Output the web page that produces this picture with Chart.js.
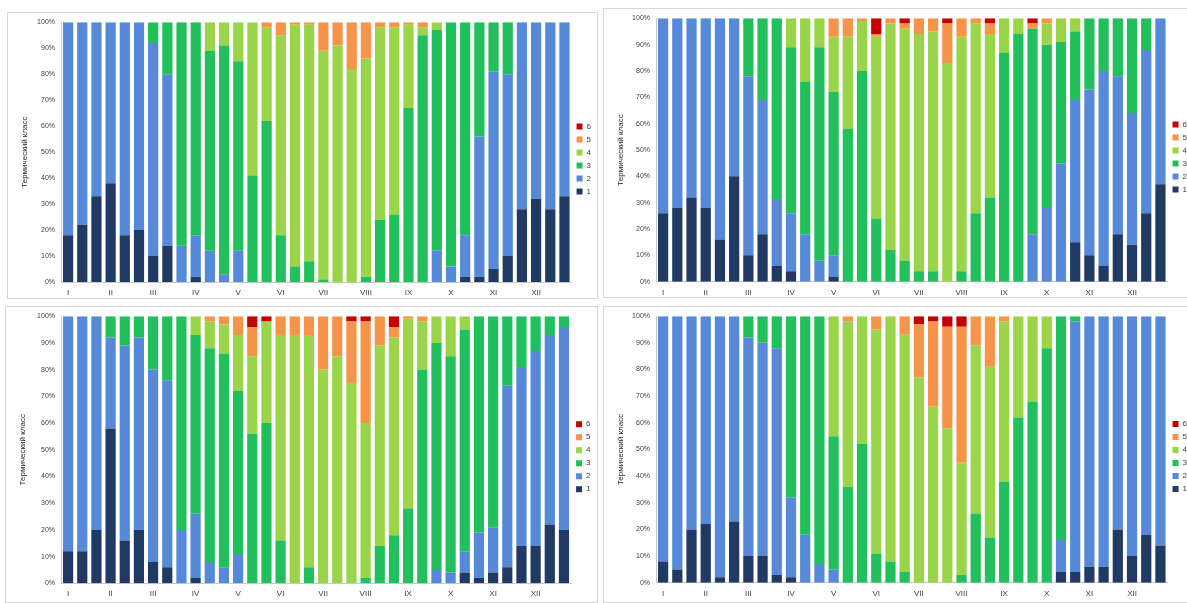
<!DOCTYPE html>
<html>
<head>
<meta charset="utf-8">
<script src="https://cdn.jsdelivr.net/npm/chart.js@4.4.1/dist/chart.umd.min.js"></script>
<style>
  body { margin: 0; width: 1187px; height: 603px; overflow: hidden; background: #fff; position: relative; }
  .panel { position: absolute; border: 1px solid #d6d6d6; box-sizing: border-box; overflow: hidden; background: #fff; }
  .panel canvas { position: absolute; left: -1px; top: -1px; }
</style>
</head>
<body>
<div class="panel" style="left:7px;top:12px;width:591px;height:287px"><canvas id="tl" width="591" height="287"></canvas></div>
<div class="panel" style="left:603px;top:8px;width:600px;height:290px"><canvas id="tr" width="600" height="290"></canvas></div>
<div class="panel" style="left:5px;top:306px;width:593px;height:297px"><canvas id="bl" width="593" height="297"></canvas></div>
<div class="panel" style="left:603px;top:306px;width:600px;height:297px"><canvas id="br" width="600" height="297"></canvas></div>
<script>
// months and decades -> 36 categories
const months = ["I", "II", "III", "IV", "V", "VI", "VII", "VIII", "IX", "X", "XI", "XII"];
const decades = ["1", "2", "3"];
const classes = ["1", "2", "3", "4", "5", "6"];
const colors = ["#213a63", "#5689d8", "#22c05d", "#9ad449", "#f6944a", "#c40000"];
const yTitle = "Термический класс";

// top left
const tl1 = [18,22,33, 38,18,20, 10,14,0, 2,0,0, 0,0,0, 0,0,0, 0,0,0, 0,0,0, 0,0,0, 0,2,2, 5,10,28, 32,28,33];
const tl2 = [82,78,67, 62,82,80, 82,66,14, 16,12,3, 12,0,0, 0,0,0, 0,0,0, 0,0,0, 0,0,12, 6,16,54, 76,70,72, 68,72,67];
const tl3 = [0,0,0, 0,0,0, 8,20,86, 82,77,88, 73,41,62, 18,6,8, 1,0,0, 2,24,26, 67,95,85, 94,82,44, 19,20,0, 0,0,0];
const tl4 = [0,0,0, 0,0,0, 0,0,0, 0,11,9, 15,59,36, 77,93,91, 88,91,82, 84,74,72, 32,3,3, 0,0,0, 0,0,0, 0,0,0];
const tl5 = [0,0,0, 0,0,0, 0,0,0, 0,0,0, 0,0,2, 5,1,1, 11,9,18, 14,2,2, 1,2,0, 0,0,0, 0,0,0, 0,0,0];
const tl6 = [0,0,0, 0,0,0, 0,0,0, 0,0,0, 0,0,0, 0,0,0, 0,0,0, 0,0,0, 0,0,0, 0,0,0, 0,0,0, 0,0,0];

// top right
const tr1 = [26,28,32, 28,16,40, 10,18,6, 4,0,0, 2,0,0, 0,0,0, 0,0,0, 0,0,0, 0,0,0, 0,0,15, 10,6,18, 14,26,37];
const tr2 = [74,72,68, 72,84,60, 68,51,25, 22,18,8, 8,0,0, 0,0,0, 0,0,0, 0,0,0, 0,0,18, 28,45,54, 63,74,60, 50,62,63];
const tr3 = [0,0,0, 0,0,0, 22,31,69, 63,58,81, 62,58,80, 24,12,8, 4,4,0, 4,26,32, 87,94,78, 62,46,26, 27,20,22, 36,12,0];
const tr4 = [0,0,0, 0,0,0, 0,0,0, 11,24,11, 21,35,19, 69,86,88, 90,91,83, 89,72,62, 13,6,0, 8,9,5, 0,0,0, 0,0,0];
const tr5 = [0,0,0, 0,0,0, 0,0,0, 0,0,0, 7,7,1, 1,2,2, 6,5,15, 7,2,4, 0,0,2, 2,0,0, 0,0,0, 0,0,0];
const tr6 = [0,0,0, 0,0,0, 0,0,0, 0,0,0, 0,0,0, 6,0,2, 0,0,2, 0,0,2, 0,0,2, 0,0,0, 0,0,0, 0,0,0];

// bottom left
const bl1 = [12,12,20, 58,16,20, 8,6,0, 2,0,0, 0,0,0, 0,0,0, 0,0,0, 0,0,0, 0,0,0, 0,4,2, 4,6,14, 14,22,20];
const bl2 = [88,88,80, 34,73,72, 72,70,20, 24,8,6, 11,0,0, 0,0,0, 0,0,0, 0,0,0, 0,0,5, 4,8,17, 17,68,67, 73,71,76];
const bl3 = [0,0,0, 8,11,8, 20,24,80, 67,80,80, 61,56,60, 16,0,6, 0,0,0, 2,14,18, 28,80,85, 81,83,81, 79,26,19, 13,7,4];
const bl4 = [0,0,0, 0,0,0, 0,0,0, 7,10,11, 21,29,38, 77,93,87, 80,85,75, 58,75,74, 71,18,10, 15,5,0, 0,0,0, 0,0,0];
const bl5 = [0,0,0, 0,0,0, 0,0,0, 0,2,3, 7,11,0, 7,7,7, 20,15,23, 38,11,4, 1,2,0, 0,0,0, 0,0,0, 0,0,0];
const bl6 = [0,0,0, 0,0,0, 0,0,0, 0,0,0, 0,4,2, 0,0,0, 0,0,2, 2,0,4, 0,0,0, 0,0,0, 0,0,0, 0,0,0];

// bottom right
const br1 = [8,5,20, 22,2,23, 10,10,3, 2,0,0, 0,0,0, 0,0,0, 0,0,0, 0,0,0, 0,0,0, 0,4,4, 6,6,20, 10,18,14];
const br2 = [92,95,80, 78,98,77, 82,80,85, 30,18,7, 5,0,0, 0,0,0, 0,0,0, 0,0,0, 0,0,0, 0,12,94, 94,94,80, 90,82,86];
const br3 = [0,0,0, 0,0,0, 8,10,12, 68,82,93, 50,36,52, 11,8,4, 0,0,0, 3,26,17, 38,62,68, 88,84,2, 0,0,0, 0,0,0];
const br4 = [0,0,0, 0,0,0, 0,0,0, 0,0,0, 45,62,48, 84,92,89, 77,66,58, 42,63,64, 60,38,32, 12,0,0, 0,0,0, 0,0,0];
const br5 = [0,0,0, 0,0,0, 0,0,0, 0,0,0, 0,2,0, 5,0,7, 20,32,38, 51,11,19, 2,0,0, 0,0,0, 0,0,0, 0,0,0];
const br6 = [0,0,0, 0,0,0, 0,0,0, 0,0,0, 0,0,0, 0,0,0, 3,2,4, 4,0,0, 0,0,0, 0,0,0, 0,0,0, 0,0,0];

const categories = [];
months.forEach(m => decades.forEach(d => categories.push(m + "-" + d)));

function makeChart(id, series, box) {
    const ctx = document.getElementById(id).getContext("2d");
    return new Chart(ctx, {
        type: "bar",
        data: {
            labels: categories,
            datasets: series.map((values, k) => ({
                label: classes[k],
                data: values,
                backgroundColor: colors[k],
                barPercentage: 0.72,
                categoryPercentage: 1,
            })),
        },
        options: {
            responsive: false,
            animation: false,
            layout: { padding: { left: 0, top: box.top, right: box.right, bottom: box.bottom } },
            plugins: {
                legend: {
                    position: "right",
                    align: "center",
                    fullSize: false,
                    reverse: true,
                    // empty title only pushes the item column a little lower
                    title: { display: true, text: "", padding: 1, font: { size: 10 } },
                    labels: { boxWidth: 6, boxHeight: 6, padding: 5, color: "#404040", font: { size: 8, family: "Liberation Sans" } },
                },
                tooltip: { enabled: false },
            },
            scales: {
                x: {
                    stacked: true,
                    grid: { display: false, drawTicks: false },
                    border: { color: "#c8c8c8" },
                    ticks: {
                        autoSkip: false,
                        maxRotation: 0,
                        padding: 6,
                        color: "#404040",
                        font: { size: 8, family: "Liberation Sans" },
                        callback: (v, i) => (i % 3 === 0 ? months[i / 3] : ""),
                    },
                    afterFit: (s) => { s.height = box.xh; },
                },
                y: {
                    stacked: true,
                    min: 0,
                    max: 100,
                    grid: { display: false, drawTicks: false },
                    border: { color: "#c8c8c8" },
                    ticks: {
                        stepSize: 10,
                        padding: 6,
                        color: "#404040",
                        font: { size: 7, family: "Liberation Sans" },
                        callback: (v) => v + "%",
                    },
                    title: {
                        display: true,
                        text: yTitle,
                        color: "#222",
                        padding: { top: 13, bottom: 0 },
                        font: { size: 8, family: "Liberation Sans" },
                    },
                    afterFit: (s) => { s.width = box.yw; },
                },
            },
        },
    });
}

makeChart("tl", [tl1, tl2, tl3, tl4, tl5, tl6], { yw: 54, xh: 15, top: 8.5, bottom: 2, right: -3 });
makeChart("tr", [tr1, tr2, tr3, tr4, tr5, tr6], { yw: 53, xh: 15, top: 10.3, bottom: 1.3, right: 6 });
makeChart("bl", [bl1, bl2, bl3, bl4, bl5, bl6], { yw: 56, xh: 15, top: 9.7, bottom: 4.7, right: -2.5 });
makeChart("br", [br1, br2, br3, br4, br5, br6], { yw: 53, xh: 15, top: 9, bottom: 5.3, right: 6 });
</script>
</body>
</html>
